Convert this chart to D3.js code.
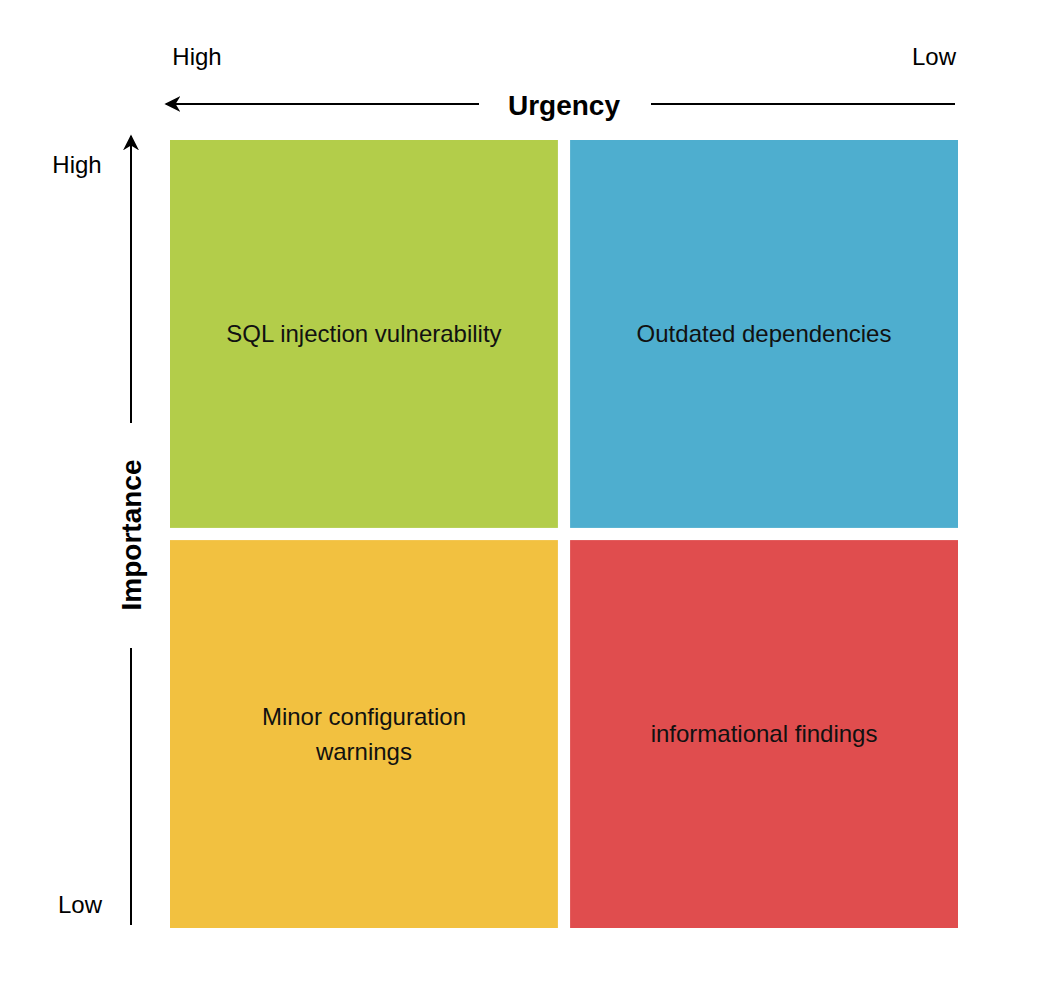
<!DOCTYPE html>
<html><head><meta charset="utf-8">
<script src="https://cdn.jsdelivr.net/npm/d3@7"></script>
<style>body{margin:0;background:#fff}text{font-family:"Liberation Sans",Arial,sans-serif}</style>
</head><body>
<script>
const urgencyLevels = ["High","Low"];
const importanceLevels = ["High","Low"];
const quadLabels = [
  ["SQL injection vulnerability"],
  ["Outdated dependencies"],
  ["Minor configuration","warnings"],
  ["informational findings"]
];
const quadUrgency = ["High","Low","High","Low"];
const quadImportance = ["High","High","Low","Low"];
const quadColors = ["#b3cd4a","#4eaecf","#f2c140","#e04d4e"];

const svg = d3.select("body").append("svg").attr("width",1064).attr("height",1002);
const x = d3.scaleBand().domain(urgencyLevels).range([164,964]).paddingInner(0.015);
const y = d3.scaleBand().domain(importanceLevels).range([134,934]).paddingInner(0.016);
// tighten: bars from 170..958
x.range([170 - 0, 958]).paddingInner(12/788*2).paddingOuter(0);
y.range([140, 928]).paddingInner(12/788*2).paddingOuter(0);

svg.append("defs").append("marker").attr("id","ah").attr("viewBox","0 0 10 10")
  .attr("refX",9).attr("refY",5).attr("markerWidth",16).attr("markerHeight",16)
  .attr("markerUnits","userSpaceOnUse").attr("orient","auto")
  .append("path").attr("d","M0,0 L10,5 L0,10 L3,5 Z").attr("fill","#000");

const g = svg.append("g");
quadLabels.forEach((lab,i)=>{
  const x0 = x(quadUrgency[i]), y0 = y(quadImportance[i]);
  g.append("rect").attr("x",x0).attr("y",y0).attr("width",x.bandwidth()).attr("height",y.bandwidth()).attr("fill",quadColors[i]);
  const cx = x0 + x.bandwidth()/2, cy = y0 + y.bandwidth()/2;
  const t = g.append("text").attr("text-anchor","middle").attr("font-size",24).attr("fill","#111");
  lab.forEach((l,j)=>t.append("tspan").attr("x",cx).attr("y",cy + 8 + (j-(lab.length-1)/2)*35).text(l));
});

// Urgency axis
svg.append("line").attr("x1",955).attr("x2",651).attr("y1",104).attr("y2",104).attr("stroke","#000").attr("stroke-width",2);
svg.append("line").attr("x1",479).attr("x2",166).attr("y1",104).attr("y2",104).attr("stroke","#000").attr("stroke-width",2).attr("marker-end","url(#ah)");
svg.append("text").attr("x",564).attr("y",115).attr("text-anchor","middle").attr("font-size",28).attr("font-weight","bold").text("Urgency");
svg.append("text").attr("x",197).attr("y",65).attr("text-anchor","middle").attr("font-size",24).text(urgencyLevels[0]);
svg.append("text").attr("x",934).attr("y",65).attr("text-anchor","middle").attr("font-size",24).text(urgencyLevels[1]);

// Importance axis
svg.append("line").attr("x1",131).attr("x2",131).attr("y1",925).attr("y2",648).attr("stroke","#000").attr("stroke-width",2);
svg.append("line").attr("x1",131).attr("x2",131).attr("y1",423).attr("y2",136).attr("stroke","#000").attr("stroke-width",2).attr("marker-end","url(#ah)");
svg.append("text").attr("transform","translate(141,535) rotate(-90)").attr("text-anchor","middle").attr("font-size",28).attr("font-weight","bold").text("Importance");
svg.append("text").attr("x",77).attr("y",173).attr("text-anchor","middle").attr("font-size",24).text(importanceLevels[0]);
svg.append("text").attr("x",80).attr("y",913).attr("text-anchor","middle").attr("font-size",24).text(importanceLevels[1]);
</script>
</body></html>
